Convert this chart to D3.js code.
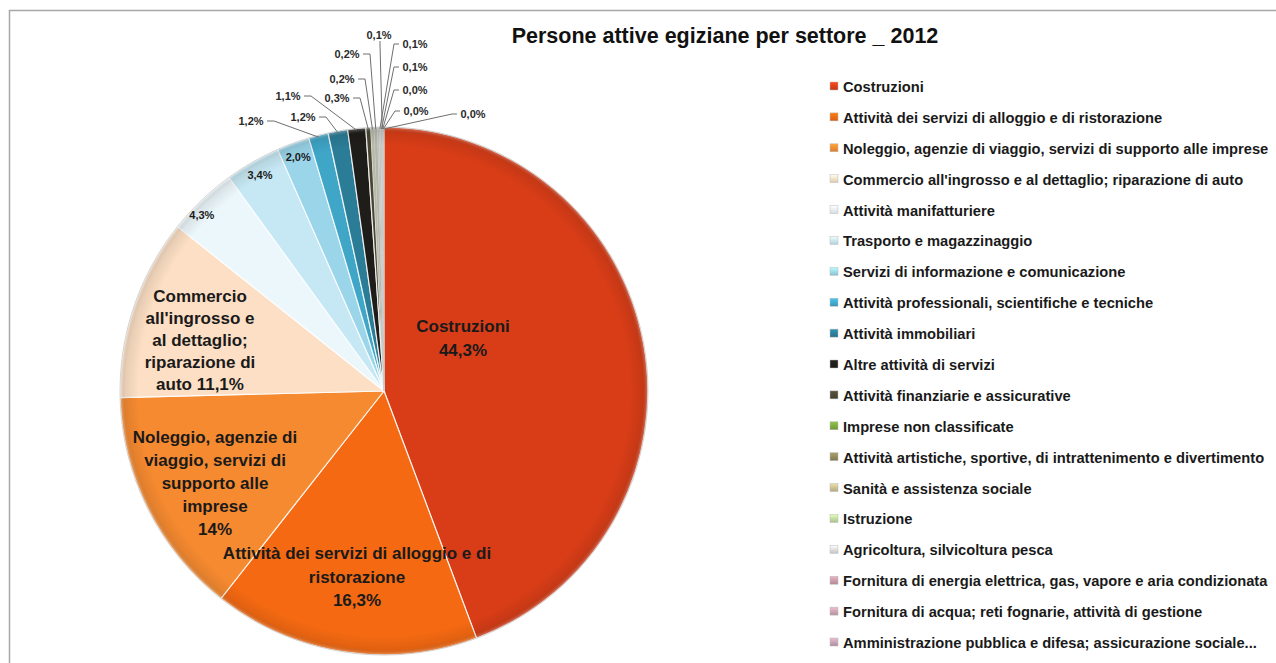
<!DOCTYPE html>
<html>
<head>
<meta charset="utf-8">
<script src="https://cdn.jsdelivr.net/npm/d3@7/dist/d3.min.js"></script>
<style>
  html, body { margin: 0; padding: 0; background: #ffffff; }
  svg { display: block; font-family: "Liberation Sans", Arial, sans-serif; }
</style>
</head>
<body>
<svg id="chart" width="1276" height="663"></svg>
<script>
// ---------------- DATA ----------------
const categories = [
  "Costruzioni",
  "Attività dei servizi di alloggio e di ristorazione",
  "Noleggio, agenzie di viaggio, servizi di supporto alle imprese",
  "Commercio all'ingrosso e al dettaglio; riparazione di auto",
  "Attività manifatturiere",
  "Trasporto e magazzinaggio",
  "Servizi di informazione e comunicazione",
  "Attività professionali, scientifiche e tecniche",
  "Attività immobiliari",
  "Altre attività di servizi",
  "Attività finanziarie e assicurative",
  "Imprese non classificate",
  "Attività artistiche, sportive, di intrattenimento e divertimento",
  "Sanità e assistenza sociale",
  "Istruzione",
  "Agricoltura, silvicoltura pesca",
  "Fornitura di energia elettrica, gas, vapore e aria condizionata",
  "Fornitura di acqua; reti fognarie, attività di gestione",
  "Amministrazione pubblica e difesa; assicurazione sociale..."
];
const values = [44.3, 16.3, 14.0, 11.1, 4.3, 3.4, 2.0, 1.2, 1.2, 1.1, 0.3, 0.2, 0.2, 0.1, 0.1, 0.1, 0.04, 0.03, 0.03];
const valueLabels = ["44,3%", "16,3%", "14%", "11,1%", "4,3%", "3,4%", "2,0%", "1,2%", "1,2%", "1,1%", "0,3%", "0,2%", "0,2%", "0,1%", "0,1%", "0,1%", "0,0%", "0,0%", "0,0%"];
const bigLabelLines = [
  ["Costruzioni", "44,3%"],
  ["Attività dei servizi di alloggio e di", "ristorazione", "16,3%"],
  ["Noleggio, agenzie di", "viaggio, servizi di", "supporto alle", "imprese", "14%"],
  ["Commercio", "all'ingrosso e", "al dettaglio;", "riparazione di", "auto 11,1%"]
];
const title = "Persone attive egiziane per settore _ 2012";

// ---------------- STYLE / LAYOUT ----------------
const colors = [
  "#d83d17", "#f46912", "#f68a30", "#fcdfc4", "#ecf7fb", "#c6e8f4", "#9ad5ea",
  "#3fa6c8", "#2b7d97", "#1f1d1a", "#4b4633", "#79a63c", "#8d875a", "#c6bb8e",
  "#bcd79b", "#d9d9d9", "#c697a6", "#c9a1ae", "#c29eb0"
];
const cx = 384, cy = 391, R = 264;
// offsets (relative to pie centre) for big in-slice labels: [x, y of first line, line height]
const bigLabelPos = [[79, -65, 24], [-27, 162, 23.5], [-169, 46, 23], [-184, -95, 22]];
// offsets (relative to pie centre) for outside labels of the small slices (index 7..18)
const smallLabelPos = [
  [-133, -270, "L"], [-81, -274, "L"], [-96, -295, "L"], [-47, -293, "L"],
  [-42, -312, "L"], [-37, -337, "L"], [-5, -356, "C"], [31, -347, "R"],
  [31, -324, "R"], [31, -301, "R"], [32, -280, "R"], [89, -277, "R"]
];

const svg = d3.select("#chart");
const defs = svg.append("defs");

// frame
svg.append("path")
  .attr("d", "M9.5,663 L9.5,10.5 L1276,10.5")
  .attr("fill", "none").attr("stroke", "#a6a6a6").attr("stroke-width", 1.5);

// title
svg.append("text")
  .attr("x", 725).attr("y", 43)
  .attr("text-anchor", "middle")
  .attr("font-size", 21.5).attr("font-weight", "bold").attr("fill", "#111")
  .text(title);

// shading gradient for slices
const rg = defs.append("radialGradient").attr("id", "shade")
  .attr("gradientUnits", "userSpaceOnUse")
  .attr("cx", 0).attr("cy", 0).attr("r", R);
rg.append("stop").attr("offset", "0%").attr("stop-color", "#000").attr("stop-opacity", 0);
rg.append("stop").attr("offset", "93%").attr("stop-color", "#000").attr("stop-opacity", 0.0);
rg.append("stop").attr("offset", "98%").attr("stop-color", "#000").attr("stop-opacity", 0.08);
rg.append("stop").attr("offset", "100%").attr("stop-color", "#fff").attr("stop-opacity", 0.35);

const pie = d3.pie().value(d => d).sort(null);
const arcs = pie(values);
const arc = d3.arc().innerRadius(0).outerRadius(R);
const color = d3.scaleOrdinal().domain(d3.range(categories.length)).range(colors);
// in the pie, the hair-thin slices read as a light grey band
const sliceFill = i => i >= 11 ? d3.interpolateRgb(color(i), "#c2c2c2")(0.8) : color(i);

const g = svg.append("g").attr("transform", `translate(${cx},${cy})`);

g.selectAll("path.slice").data(arcs).join("path")
  .attr("class", "slice")
  .attr("d", arc)
  .attr("fill", (d, i) => sliceFill(i))
  .attr("stroke", (d, i) => i >= 11 ? "#d0d0d0" : "#ffffff")
  .attr("stroke-opacity", 0.85).attr("stroke-width", (d, i) => i >= 11 ? 0.3 : 1.2)
  .attr("stroke-linejoin", "round");

g.selectAll("path.shade").data(arcs).join("path")
  .attr("class", "shade")
  .attr("d", arc)
  .attr("fill", "url(#shade)");

g.append("circle").attr("r", R).attr("fill", "none")
  .attr("stroke", "#c8c8c8").attr("stroke-width", 0.8);

// big labels
arcs.slice(0, 4).forEach((d, i) => {
  const p = bigLabelPos[i];
  const t = g.append("text")
    .attr("text-anchor", "middle")
    .attr("font-size", 17).attr("font-weight", "bold").attr("fill", "#1a1a1a");
  bigLabelLines[i].forEach((ln, k) => {
    t.append("tspan").attr("x", p[0]).attr("y", p[1] + k * p[2] + 6).text(ln);
  });
});

// inside-end labels for medium slices
const arcInner = d3.arc().innerRadius(249).outerRadius(249);
arcs.slice(4, 7).forEach((d, j) => {
  const i = j + 4;
  const c = arcInner.centroid(d);
  g.append("text")
    .attr("x", c[0] - (j === 0 ? 10 : 0)).attr("y", c[1] + 4 + (j === 0 ? 4 : 0))
    .attr("text-anchor", "middle")
    .attr("font-size", 11).attr("font-weight", "bold").attr("fill", "#1a1a1a")
    .text(valueLabels[i]);
});

// outside labels with leader lines
const arcEdge = d3.arc().innerRadius(R - 2).outerRadius(R - 2);
arcs.slice(7).forEach((d, j) => {
  const i = j + 7;
  const pos = smallLabelPos[j];
  const e = arcEdge.centroid(d);
  const lbl = valueLabels[i];
  const halfW = 13;
  let pts;
  if (pos[2] === "L") {
    const sx = pos[0] + halfW + 3;
    pts = [[sx, pos[1]], [sx + 7, pos[1]], e];
  } else if (pos[2] === "R") {
    const sx = pos[0] - halfW - 3;
    pts = [[sx, pos[1]], [sx - 5, pos[1]], e];
  } else {
    pts = [[pos[0] + 1, pos[1] + 6], [pos[0] + 1, pos[1] + 10], [e[0] + 4, e[1]]];
  }
  g.append("path")
    .attr("d", d3.line()(pts))
    .attr("fill", "none").attr("stroke", "#6f6f6f").attr("stroke-width", 1);
  g.append("text")
    .attr("x", pos[0]).attr("y", pos[1] + 4)
    .attr("text-anchor", "middle")
    .attr("font-size", 11).attr("font-weight", "bold").attr("fill", "#2a2a2a")
    .text(lbl);
});

// legend
const ly = d3.scalePoint().domain(d3.range(categories.length)).range([87, 643]);
const legend = svg.append("g");
categories.forEach((c, i) => {
  const y = ly(i);
  const gid = "lg" + i;
  const lgr = defs.append("linearGradient").attr("id", gid)
    .attr("x1", 0).attr("y1", 0).attr("x2", 0).attr("y2", 1);
  lgr.append("stop").attr("offset", "0%").attr("stop-color", d3.color(color(i)).brighter(0.5));
  lgr.append("stop").attr("offset", "100%").attr("stop-color", d3.color(color(i)).darker(0.3));
  legend.append("rect")
    .attr("x", 830).attr("y", y - 5).attr("width", 8).attr("height", 8)
    .attr("fill", `url(#${gid})`)
    .attr("stroke", "#bbbbbb").attr("stroke-width", 0.5);
  legend.append("text")
    .attr("x", 843).attr("y", y + 5)
    .attr("font-size", 14.7).attr("font-weight", "bold").attr("fill", "#1a1a1a")
    .text(c);
});
</script>
</body>
</html>
